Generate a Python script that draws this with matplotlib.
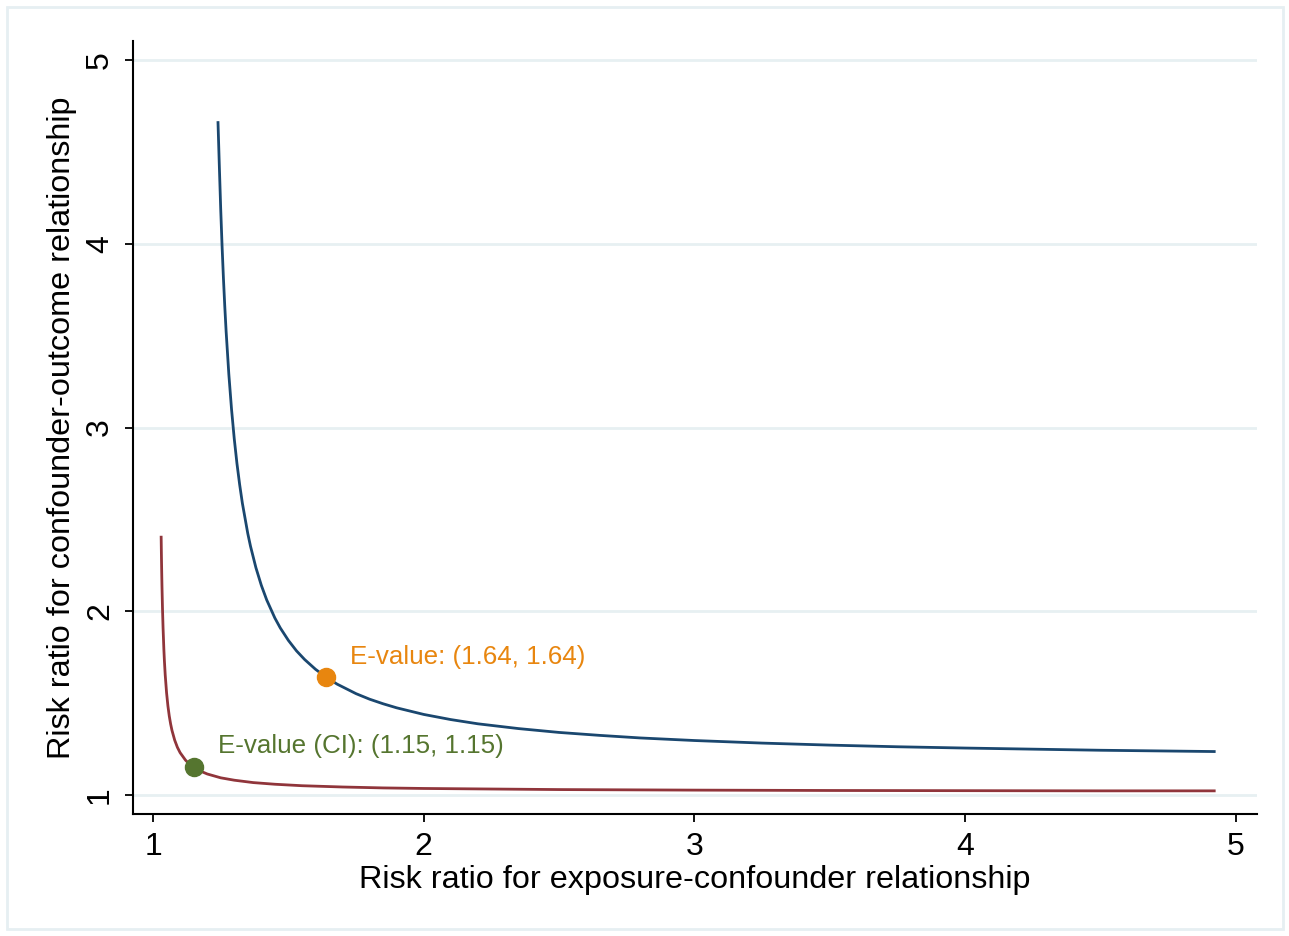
import matplotlib.pyplot as plt
from matplotlib.patches import Rectangle

plt.rcParams['font.family'] = ['Liberation Sans', 'DejaVu Sans']

# curve for the point estimate
rr_x = [1.24, 1.245, 1.25, 1.255, 1.26, 1.265, 1.27, 1.28, 1.29, 1.30, 1.31,
        1.32, 1.33, 1.35, 1.36, 1.38, 1.40, 1.42, 1.45, 1.47, 1.50, 1.53, 1.56,
        1.60, 1.64, 1.68, 1.75, 1.80, 1.85, 1.90, 2.00, 2.10, 2.20, 2.35, 2.50,
        2.65, 2.80, 3.00, 3.25, 3.50, 3.75, 4.00, 4.50, 4.92]
rr_y = [4.660, 4.419, 4.189, 3.989, 3.814, 3.660, 3.523, 3.290, 3.099, 2.939,
        2.804, 2.689, 2.588, 2.423, 2.354, 2.237, 2.141, 2.061, 1.963, 1.909,
        1.841, 1.784, 1.737, 1.684, 1.640, 1.603, 1.551, 1.521, 1.496, 1.474,
        1.438, 1.410, 1.387, 1.361, 1.340, 1.324, 1.310, 1.296, 1.282, 1.271,
        1.262, 1.255, 1.243, 1.236]

# curve for the confidence limit
ci_x = [1.03, 1.031, 1.032, 1.033, 1.035, 1.037, 1.04, 1.042, 1.045, 1.05,
        1.055, 1.06, 1.065, 1.07, 1.08, 1.09, 1.10, 1.12, 1.135, 1.15, 1.17,
        1.20, 1.25, 1.30, 1.37, 1.45, 1.55, 1.70, 1.85, 2.00, 2.25, 2.50, 3.00,
        3.50, 4.00, 4.50, 4.92]
ci_y = [2.403, 2.302, 2.215, 2.138, 2.012, 1.911, 1.793, 1.730, 1.653, 1.556,
        1.484, 1.429, 1.386, 1.351, 1.298, 1.259, 1.230, 1.189, 1.167, 1.150,
        1.133, 1.114, 1.093, 1.080, 1.067, 1.058, 1.050, 1.043, 1.038, 1.035,
        1.032, 1.029, 1.026, 1.024, 1.023, 1.022, 1.022]

evalue = (1.64, 1.64)
evalue_ci = (1.15, 1.15)

navy = '#1a476f'
maroon = '#90353b'
orange = '#e8860f'
green = '#55752f'

fig = plt.figure(figsize=(12.89, 9.36), dpi=100)
fig.patches.append(Rectangle((7 / 1289, 7 / 936), 1276 / 1289, 922 / 936,
                             transform=fig.transFigure, fill=False,
                             edgecolor='#e6eff2', linewidth=2))
ax = fig.add_axes([133 / 1289, 1 - 814 / 936, 1124 / 1289, 773 / 936])

ax.set_xlim(0.926, 5.078)
ax.set_ylim(0.896, 5.104)
for v in [1, 2, 3, 4, 5]:
    ax.axhline(v, color='#e7f0f2', linewidth=2, zorder=0)

ax.plot(rr_x, rr_y, color=navy, linewidth=2)
ax.plot(ci_x, ci_y, color=maroon, linewidth=2)
ax.plot(*evalue, 'o', color=orange, markersize=13, zorder=5)
ax.plot(*evalue_ci, 'o', color=green, markersize=13, zorder=5)

ax.text(1.728, 1.753, 'E-value: (1.64, 1.64)', color=orange, fontsize=18.7,
        va='center', ha='left')
ax.text(1.240, 1.267, 'E-value (CI): (1.15, 1.15)', color=green, fontsize=18.7,
        va='center', ha='left')

ax.set_xticks([1, 2, 3, 4, 5])
ax.set_yticks([1, 2, 3, 4, 5])
ax.tick_params(direction='out', length=6, width=1.3, labelsize=23, pad=7)
for lab in ax.get_yticklabels():
    lab.set_rotation(90)
    lab.set_va('center')

for s in ['top', 'right']:
    ax.spines[s].set_visible(False)
for s in ['left', 'bottom']:
    ax.spines[s].set_linewidth(1.5)

ax.set_xlabel('Risk ratio for exposure-confounder relationship', fontsize=23.3,
              labelpad=2)
ax.set_ylabel('Risk ratio for confounder-outcome relationship', fontsize=23.3,
              labelpad=6)

fig.savefig('out.png', dpi=100)
